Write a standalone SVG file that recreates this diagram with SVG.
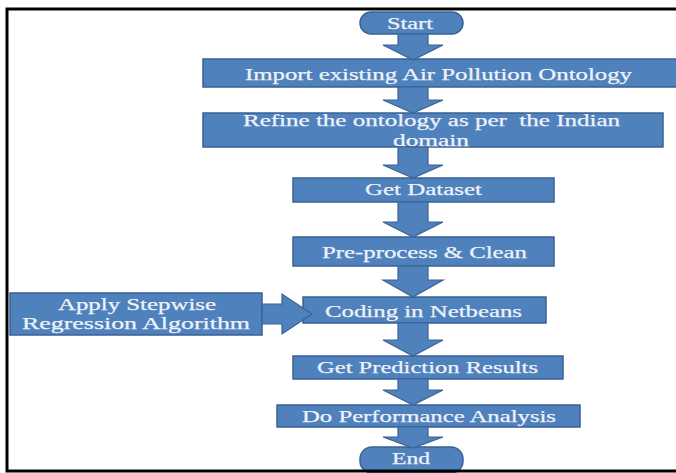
<svg xmlns="http://www.w3.org/2000/svg" width="676" height="473" viewBox="0 0 676 473">
<style>
.box{fill:#4F81BD;stroke:#3A6294;stroke-width:1.5}
.arr{fill:#4F81BD;stroke:#3A6294;stroke-width:1.2}
.t{font-family:"Liberation Serif","DejaVu Serif",serif;font-size:17px;fill:#EEF2FA;stroke:#EEF2FA;stroke-width:0.25}
.s{font-size:16px}
</style>
<rect x="0" y="0" width="676" height="473" fill="#FFFFFF"/>
<g id="start"><rect class="box" x="360" y="12" width="103" height="22" rx="11" ry="11"/><text class="t" x="387" y="29" textLength="46" lengthAdjust="spacingAndGlyphs">Start</text></g>
<g id="import"><rect class="box" x="203" y="59" width="490" height="28"/><text class="t" x="245" y="80" textLength="387" lengthAdjust="spacingAndGlyphs">Import existing Air Pollution Ontology</text></g>
<g id="refine"><rect class="box" x="203" y="113" width="460" height="34"/><text class="t s" x="243" y="126" textLength="377" lengthAdjust="spacingAndGlyphs" xml:space="preserve">Refine the ontology as per  the Indian</text><text class="t s" x="393" y="146" textLength="76" lengthAdjust="spacingAndGlyphs">domain</text></g>
<g id="dataset"><rect class="box" x="293" y="178" width="261" height="24"/><text class="t" x="365" y="195" textLength="117" lengthAdjust="spacingAndGlyphs">Get Dataset</text></g>
<g id="preprocess"><rect class="box" x="293" y="237" width="261" height="29"/><text class="t" x="322" y="258" textLength="205" lengthAdjust="spacingAndGlyphs">Pre-process &amp; Clean</text></g>
<g id="coding"><rect class="box" x="303" y="297" width="243" height="26"/><text class="t" x="325" y="317" textLength="197" lengthAdjust="spacingAndGlyphs">Coding in Netbeans</text></g>
<g id="stepwise"><rect class="box" x="10" y="293" width="252" height="42"/><text class="t" x="58" y="310" textLength="158" lengthAdjust="spacingAndGlyphs">Apply Stepwise</text><text class="t" x="22" y="329" textLength="228" lengthAdjust="spacingAndGlyphs">Regression Algorithm</text></g>
<g id="prediction"><rect class="box" x="293" y="356" width="270" height="23"/><text class="t" x="317" y="373" textLength="221" lengthAdjust="spacingAndGlyphs">Get Prediction Results</text></g>
<g id="performance"><rect class="box" x="277" y="405" width="303" height="22"/><text class="t" x="302" y="422" textLength="254" lengthAdjust="spacingAndGlyphs">Do Performance Analysis</text></g>
<g id="end"><rect class="box" x="360" y="447" width="103" height="26" rx="12" ry="12"/><text class="t" x="392" y="464" textLength="38" lengthAdjust="spacingAndGlyphs">End</text></g>
<g id="connectors">
<polygon class="arr" points="398,34 428,34 428,45 443,45 413,60 383,45 398,45"/>
<polygon class="arr" points="398,87 428,87 428,100 443,100 413,113 383,100 398,100"/>
<polygon class="arr" points="398,147 428,147 428,165 443,165 413,178 383,165 398,165"/>
<polygon class="arr" points="398,202 428,202 428,222 443,222 413,237 383,222 398,222"/>
<polygon class="arr" points="398,266 428,266 428,280 443,280 413,297 383,280 398,280"/>
<polygon class="arr" points="398,323 428,323 428,340 443,340 413,356 383,340 398,340"/>
<polygon class="arr" points="398,379 428,379 428,390 443,390 413,405 383,390 398,390"/>
<polygon class="arr" points="398,427 428,427 428,437 443,437 413,448 383,437 398,437"/>
<polygon class="arr" points="262,304 282,304 282,294 312,314 282,334 282,324 262,324"/>
</g>
<rect x="7" y="9" width="720" height="462" fill="none" stroke="#000000" stroke-width="3"/>
</svg>
